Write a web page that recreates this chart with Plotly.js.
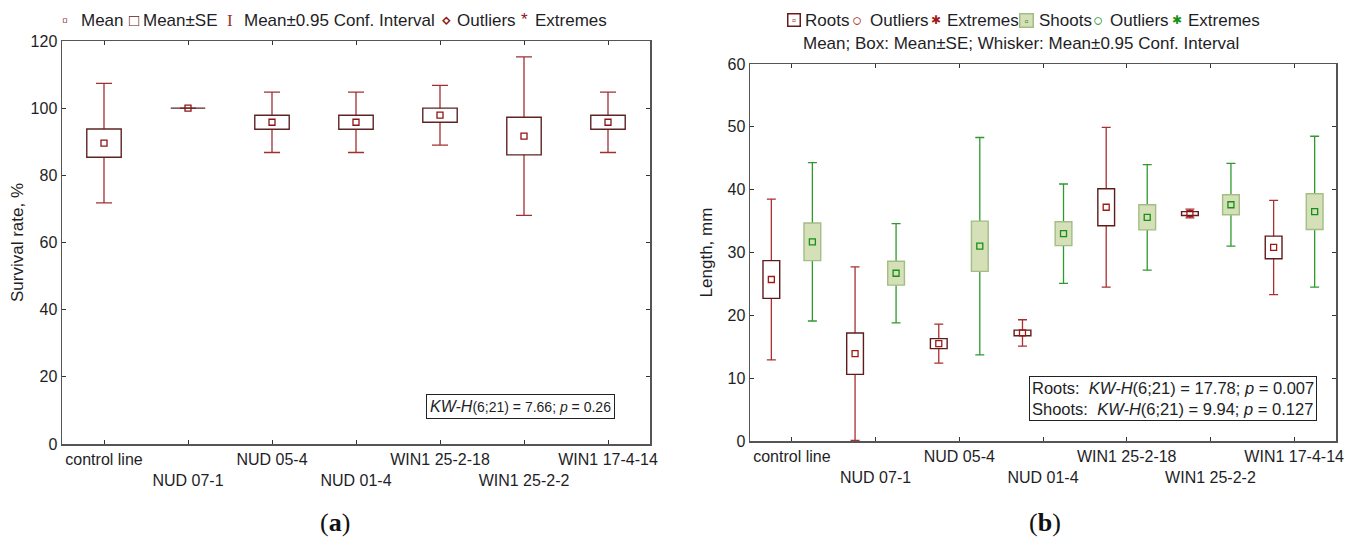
<!DOCTYPE html>
<html><head><meta charset="utf-8">
<script src="https://cdn.plot.ly/plotly-3.0.1.min.js"></script>
<style>html,body{margin:0;padding:0;background:#fff}#chart{width:1360px;height:541px}</style>
</head><body><div id="chart"></div>
<script>
// ---------- data ----------
const categories = ['control line','NUD 07-1','NUD 05-4','NUD 01-4','WIN1 25-2-18','WIN1 25-2-2','WIN1 17-4-14'];
// (a) survival rate, %
const survMean = [89.6, 100, 95.8, 95.8, 97.9, 91.7, 95.8];
const survSE   = [4.2, 0, 2.1, 2.1, 2.1, 5.6, 2.1];
const survCI   = [17.8, 0, 9.0, 9.0, 8.9, 23.6, 9.0];
// (b) length, mm
const rootsMean  = [25.7, 13.9, 15.5, 17.2, 37.2, 36.2, 30.8];
const rootsSE    = [3.0, 3.3, 0.8, 0.45, 2.95, 0.3, 1.8];
const rootsCI    = [12.8, 13.8, 3.1, 2.1, 12.7, 0.7, 7.5];
const shootsMean = [31.7, 26.7, 31.0, 33.0, 35.6, 37.6, 36.5];
const shootsSE   = [3.0, 1.9, 4.0, 1.9, 2.0, 1.6, 2.85];
const shootsCI   = [12.6, 7.9, 17.3, 7.9, 8.4, 6.6, 12.0];
const yTicksA = [0, 20, 40, 60, 80, 100, 120];
const yTicksB = [0, 10, 20, 30, 40, 50, 60];

// ---------- helpers ----------
const W = 1360, H = 541;
const px = x => x / W;
const py = y => 1 - y / H;
const idx = categories.map((c, i) => i);
const ticktext = categories.map((c, i) => i % 2 ? '\u00a0<br>' + c : c);
const TXT = '#1e1e26';
const FONT = 'Liberation Sans, Arial, sans-serif';

function panel(xs, mean, se, ci, xa, ya, st) {
  return [
    { // whisker carrier (transparent bar with CI error bar)
      type: 'bar', x: xs, y: mean, width: st.w, xaxis: xa, yaxis: ya,
      marker: {color: 'rgba(0,0,0,0)', line: {width: 0}},
      error_y: {type: 'data', array: ci, visible: true, color: st.whisk, thickness: 1.3, width: st.cap},
      hoverinfo: 'skip', showlegend: false
    },
    { // SE box (covers the whisker inside it)
      type: 'bar', x: xs, y: se.map(s => 2 * s), base: mean.map((m, i) => m - se[i]),
      width: st.w, xaxis: xa, yaxis: ya,
      marker: {color: st.fill, line: {color: st.line, width: 1.4}},
      hoverinfo: 'skip', showlegend: false
    },
    { // mean
      type: 'scatter', mode: 'markers', x: xs, y: mean, xaxis: xa, yaxis: ya,
      marker: {symbol: 'square-open', size: 6, color: st.mean, line: {width: 1.3, color: st.mean}},
      hoverinfo: 'skip', showlegend: false
    }
  ];
}

const stA = {w: 0.41, cap: 8, whisk: '#a03030', fill: '#ffffff', line: '#5e2424', mean: '#8e1414'};
const stR = {w: 0.2, cap: 4.5, whisk: '#a83030', fill: '#ffffff', line: '#5e1c1c', mean: '#a21818'};
const stS = {w: 0.2, cap: 4.5, whisk: '#2e9a2e', fill: '#d5e0b8', line: '#a3bd84', mean: '#169016'};

const data = [].concat(
  panel(idx, survMean, survSE, survCI, 'x', 'y', stA),
  panel(idx.map(i => i - 0.245), rootsMean, rootsSE, rootsCI, 'x2', 'y2', stR),
  panel(idx.map(i => i + 0.245), shootsMean, shootsSE, shootsCI, 'x2', 'y2', stS)
);

const axBase = {
  showline: true, linecolor: '#555555', linewidth: 1.5, mirror: 'ticks',
  ticks: 'inside', ticklen: 4, tickcolor: '#333', tickwidth: 1,
  showgrid: false, zeroline: false, automargin: false, fixedrange: true,
  tickfont: {family: FONT, size: 16, color: TXT}
};
const xBase = Object.assign({}, axBase, {range: [-0.5, 6.5], tickmode: 'array', tickvals: idx, ticktext: ticktext, tickangle: 0});

// ---------- legends ----------
const LFS = 17;
function lg(x, y, text, extra) {
  return Object.assign({x: px(x), xanchor: 'left', y: py(y), yanchor: 'middle', text: text}, extra || {});
}
const RED = '#8e1414', GRN = '#169016';
const legendA = [
  lg(60, 20, '<span style="color:' + RED + '">▫</span>'),
  lg(79, 20, 'Mean'),
  lg(127, 20, '<span style="color:#5e2424">□</span>'),
  lg(141, 20, 'Mean±SE'),
  lg(225, 20, '<span style="color:#a03030;font-family:Liberation Serif">I</span>'),
  lg(242, 20, 'Mean±0.95 Conf. Interval'),
  lg(439, 20, '<span style="color:' + RED + '">⋄</span>'),
  lg(455, 20, 'Outliers'),
  lg(519, 19, '<span style="color:' + RED + '">*</span>'),
  lg(533, 20, 'Extremes')
];
const iconBox = {borderpad: 0, borderwidth: 1.5, font: {size: 11, family: FONT}};
const legendB = [
  lg(787, 20, '<span style="color:#a21818">▫</span>', Object.assign({width: 11, height: 11, bordercolor: '#6a1c1c', bgcolor: '#fff'}, iconBox)),
  lg(803, 20, 'Roots'),
  lg(850, 20, '<span style="color:#a21818">○</span>'),
  lg(868, 20, 'Outliers'),
  lg(929, 20, '<span style="color:#a21818;font-size:12px">✱</span>'),
  lg(945, 20, 'Extremes'),
  lg(1019, 20, '<span style="color:' + GRN + '">▫</span>', Object.assign({width: 12, height: 12, bordercolor: '#a3bd84', bgcolor: '#d5e0b8'}, iconBox)),
  lg(1037, 20, 'Shoots'),
  lg(1091, 20, '<span style="color:' + GRN + '">○</span>'),
  lg(1108, 20, 'Outliers'),
  lg(1170, 20, '<span style="color:' + GRN + ';font-size:12px">✱</span>'),
  lg(1186, 20, 'Extremes'),
  {x: px(1021), xanchor: 'center', y: py(43), yanchor: 'middle', text: 'Mean; Box: Mean±SE; Whisker: Mean±0.95 Conf. Interval'}
];

const annotations = [
  ...legendA, ...legendB,
  {x: px(615), xanchor: 'right', y: py(419), yanchor: 'bottom',
   text: '<span style="font-size:16px"><i>KW-H</i></span>(6;21) = 7.66; <i>p</i> = 0.26',
   font: {family: FONT, size: 14, color: TXT}, bordercolor: '#222', borderwidth: 1, borderpad: 3, bgcolor: '#fff'},
  {x: px(1317), xanchor: 'right', y: py(421), yanchor: 'bottom', align: 'left',
   text: 'Roots:\u00a0 <i>KW-H</i>(6;21) = 17.78; <i>p</i> = 0.007<br>Shoots:\u00a0 <i>KW-H</i>(6;21) = 9.94; <i>p</i> = 0.127',
   font: {family: FONT, size: 16.5, color: TXT}, bordercolor: '#222', borderwidth: 1, borderpad: 2, bgcolor: '#fff'},
  {x: px(335), xanchor: 'center', y: py(522), yanchor: 'middle', text: '(<b>a</b>)',
   font: {family: 'Liberation Serif, serif', size: 26, color: '#111'}},
  {x: px(1045), xanchor: 'center', y: py(522), yanchor: 'middle', text: '(<b>b</b>)',
   font: {family: 'Liberation Serif, serif', size: 26, color: '#111'}}
].map(a => Object.assign({xref: 'paper', yref: 'paper', showarrow: false, font: {family: FONT, size: LFS, color: TXT}}, a));

const layout = {
  width: W, height: H, margin: {l: 0, r: 0, t: 0, b: 0},
  paper_bgcolor: '#fff', plot_bgcolor: '#fff', showlegend: false, barmode: 'overlay',
  font: {family: FONT, color: TXT},
  xaxis: Object.assign({}, xBase, {domain: [px(62), px(650)], anchor: 'y'}),
  yaxis: Object.assign({}, axBase, {domain: [py(444), py(41)], range: [0, 120], tickmode: 'array', tickvals: yTicksA, anchor: 'x',
    title: {text: 'Survival rate, %', font: {family: FONT, size: 17, color: TXT}, standoff: 2}}),
  xaxis2: Object.assign({}, xBase, {domain: [px(750), px(1336)], anchor: 'y2'}),
  yaxis2: Object.assign({}, axBase, {domain: [py(441), py(64)], range: [0, 60], tickmode: 'array', tickvals: yTicksB, anchor: 'x2',
    title: {text: 'Length, mm', font: {family: FONT, size: 17, color: TXT}, standoff: 10}}),
  annotations: annotations
};

Plotly.newPlot('chart', data, layout, {staticPlot: true, displayModeBar: false});
</script>
</body></html>
